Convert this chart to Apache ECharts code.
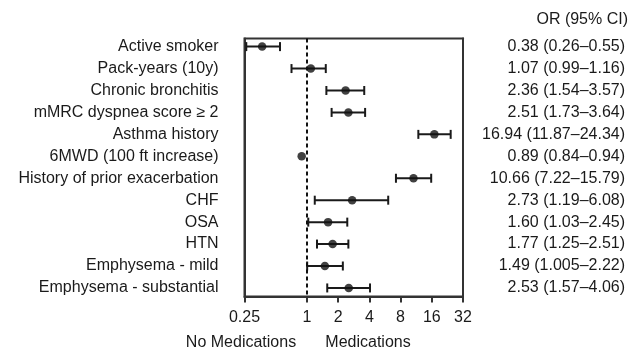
<!DOCTYPE html>
<html>
<head>
<meta charset="utf-8">
<script src="https://cdn.jsdelivr.net/npm/echarts@6/dist/echarts.min.js"></script>
<style>html,body{margin:0;padding:0;background:#fff}#c{width:631px;height:349px}</style>
</head>
<body>
<div id="c"></div>
<script>
const categories = ['Active smoker','Pack-years (10y)','Chronic bronchitis','mMRC dyspnea score \u2265 2','Asthma history','6MWD (100 ft increase)','History of prior exacerbation','CHF','OSA','HTN','Emphysema - mild','Emphysema - substantial'];
const orValues = [0.37,1.09,2.36,2.51,16.94,0.89,10.66,2.73,1.60,1.77,1.49,2.53];
const ciLower = [0.26,0.71,1.54,1.73,11.87,0.84,7.22,1.19,1.03,1.25,1.005,1.57];
const ciUpper = [0.55,1.52,3.57,3.64,24.34,0.94,15.79,6.08,2.45,2.51,2.22,4.06];
const orLabels = ['0.38 (0.26\u20130.55)','1.07 (0.99\u20131.16)','2.36 (1.54\u20133.57)','2.51 (1.73\u20133.64)','16.94 (11.87\u201324.34)','0.89 (0.84\u20130.94)','10.66 (7.22\u201315.79)','2.73 (1.19\u20136.08)','1.60 (1.03\u20132.45)','1.77 (1.25\u20132.51)','1.49 (1.005\u20132.22)','2.53 (1.57\u20134.06)'];
const xTicks = [0.25,1,2,4,8,16,32];

const FONT = 'Liberation Sans, Arial, sans-serif';
const TXT = '#1a1a1a';
const FS = 16;
const rowIdx = categories.map((_, i) => i);

const chart = echarts.init(document.getElementById('c'), null, {renderer:'canvas'});
const option = {
  animation: false,
  grid: {left: 244.5, top: 38.5, width: 218.5, height: 258, show: true, borderColor: '#333', borderWidth: 2, backgroundColor: 'transparent'},
  xAxis: {
    type: 'log', logBase: 2, min: 0.25, max: 32,
    axisLine: {show: true, onZero: false, lineStyle: {color: '#333', width: 2}},
    axisTick: {show: true, length: 6, lineStyle: {color: '#333', width: 2}, customValues: xTicks},
    axisLabel: {fontFamily: FONT, fontSize: FS, color: TXT, margin: 13, customValues: xTicks,
      formatter: v => String(+(+v).toFixed(2))},
    splitLine: {show: false}
  },
  yAxis: [{
    type: 'value', inverse: true, min: -0.37, max: 11.39,
    axisLine: {show: true, onZero: false, lineStyle: {color: '#333', width: 2}},
    axisTick: {show: false},
    splitLine: {show: false},
    axisLabel: {fontFamily: FONT, fontSize: FS, color: TXT, margin: 26, customValues: rowIdx,
      formatter: v => categories[Math.round(v)] || ''}
  }, {
    type: 'value', inverse: true, min: -0.37, max: 11.39, position: 'right',
    axisLine: {show: true, onZero: false, lineStyle: {color: '#333', width: 2}},
    axisTick: {show: false},
    splitLine: {show: false},
    axisLabel: {fontFamily: FONT, fontSize: FS, color: TXT, margin: 162, align: 'right', customValues: rowIdx,
      formatter: v => orLabels[Math.round(v)] || ''}
  }],
  series: [{
    type: 'custom',
    data: rowIdx.map(i => [ciLower[i], ciUpper[i], i]),
    renderItem: function (params, api) {
      const lo = api.coord([api.value(0), api.value(2)]);
      const hi = api.coord([api.value(1), api.value(2)]);
      const h = 4.5;
      const st = {stroke: '#1a1a1a', lineWidth: 2};
      if (hi[0] - lo[0] < 9) return {type: 'group', children: []};
      return {type: 'group', children: [
        {type: 'line', shape: {x1: lo[0], y1: lo[1], x2: hi[0], y2: hi[1]}, style: st},
        {type: 'line', shape: {x1: lo[0], y1: lo[1]-h, x2: lo[0], y2: lo[1]+h}, style: st},
        {type: 'line', shape: {x1: hi[0], y1: hi[1]-h, x2: hi[0], y2: hi[1]+h}, style: st}
      ]};
    },
    z: 2
  }, {
    type: 'scatter',
    data: rowIdx.map(i => [orValues[i], i]),
    symbol: 'circle', symbolSize: 8.5,
    itemStyle: {color: '#111'},
    z: 3,
    markLine: {
      silent: true, symbol: 'none', label: {show: false},
      lineStyle: {color: '#111', width: 2, type: [4, 3]},
      data: [{xAxis: 1}]
    }
  }],
  graphic: [
    {type: 'text', x: 628, y: 19.5, style: {text: 'OR (95% CI)', font: FS + 'px ' + FONT, fill: TXT, textAlign: 'right', textVerticalAlign: 'middle'}},
    {type: 'text', x: 241, y: 343, style: {text: 'No Medications', font: FS + 'px ' + FONT, fill: TXT, textAlign: 'center', textVerticalAlign: 'middle'}},
    {type: 'text', x: 368, y: 343, style: {text: 'Medications', font: FS + 'px ' + FONT, fill: TXT, textAlign: 'center', textVerticalAlign: 'middle'}}
  ]
};
chart.setOption(option);
</script>
</body>
</html>
